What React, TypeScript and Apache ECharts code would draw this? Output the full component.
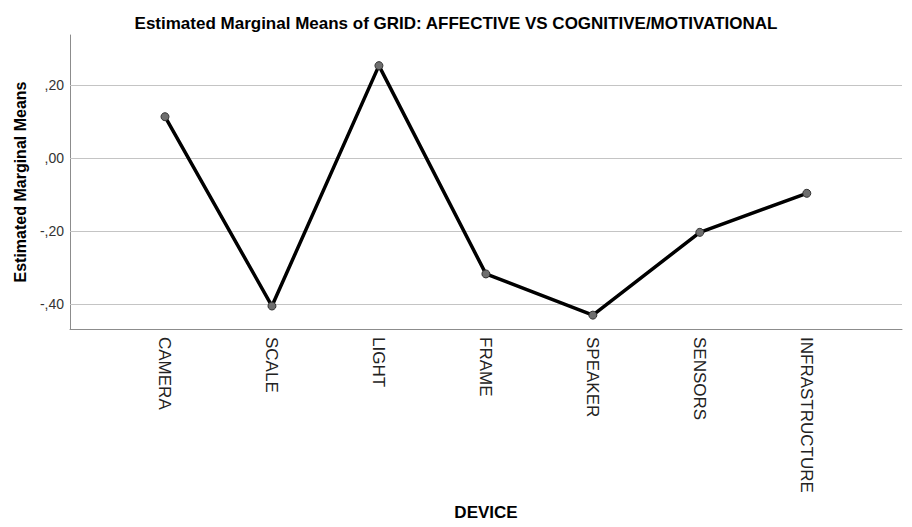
import React, { useEffect, useRef } from "react";
import * as echarts from "echarts";

const categories = ["CAMERA", "SCALE", "LIGHT", "FRAME", "SPEAKER", "SENSORS", "INFRASTRUCTURE"];
const means = [0.113, -0.406, 0.253, -0.318, -0.431, -0.204, -0.097];
const yTicks = [-0.4, -0.2, 0, 0.2];
const xTicks = [0, 1, 2, 3, 4, 5, 6];

function fmt(v: number): string {
  const s = Math.abs(v).toFixed(2).replace("0.", ",");
  return (v < 0 ? "-" : "") + s;
}

export default function App() {
  const ref = useRef<HTMLDivElement>(null);
  useEffect(() => {
    if (!ref.current) return;
    const chart = echarts.init(ref.current, null, { renderer: "svg" });
    const font = "Liberation Sans, Arial, sans-serif";
    chart.setOption({
      animation: false,
      backgroundColor: "#ffffff",
      textStyle: { fontFamily: font },
      title: {
        text: "Estimated Marginal Means of GRID: AFFECTIVE VS COGNITIVE/MOTIVATIONAL",
        left: "center",
        top: 10,
        textStyle: { fontSize: 17, fontWeight: "bold", color: "#000", fontFamily: font },
      },
      grid: { left: 70, right: 10, top: 35, bottom: 198, containLabel: false },
      xAxis: {
        type: "value",
        min: -0.888,
        max: 6.89,
        name: "DEVICE",
        nameLocation: "middle",
        nameGap: 175,
        nameTextStyle: { fontSize: 17, fontWeight: "bold", color: "#000", fontFamily: font, verticalAlign: "top" },
        axisLine: { show: true, onZero: false, lineStyle: { color: "#8c8c8c", width: 1 } },
        axisTick: { show: false },
        splitLine: { show: false },
        axisLabel: {
          customValues: xTicks,
          rotate: -90,
          margin: 8,
          fontSize: 17,
          color: "#222",
          fontFamily: font,
          formatter: (v: number) => categories[Math.round(v)] ?? "",
        },
      },
      yAxis: {
        type: "value",
        min: -0.469,
        max: 0.337,
        name: "Estimated Marginal Means",
        nameLocation: "middle",
        nameGap: 42,
        nameTextStyle: { fontSize: 16, fontWeight: "bold", color: "#000", fontFamily: font },
        axisLine: { show: true, onZero: false, lineStyle: { color: "#8c8c8c", width: 1 } },
        axisTick: { show: false },
        splitLine: { show: false },
        axisLabel: {
          customValues: yTicks,
          margin: 6,
          fontSize: 14,
          color: "#333",
          fontFamily: font,
          formatter: (v: number) => fmt(v),
        },
      },
      series: [
        {
          type: "line",
          data: means.map((m, i) => [xTicks[i], m]),
          lineStyle: { color: "#000", width: 3.5 },
          symbol: "circle",
          symbolSize: 8,
          itemStyle: { color: "#6e6e6e", borderColor: "#333", borderWidth: 1 },
          z: 5,
          markLine: {
            silent: true,
            symbol: "none",
            label: { show: false },
            lineStyle: { color: "#c4c4c4", width: 1, type: "solid" },
            data: yTicks.map((t) => ({ yAxis: t })),
            z: 1,
          },
        },
      ],
    });
    return () => chart.dispose();
  }, []);
  return <div ref={ref} style={{ width: 912, height: 527, position: "absolute", left: 0, top: 0 }} />;
}
